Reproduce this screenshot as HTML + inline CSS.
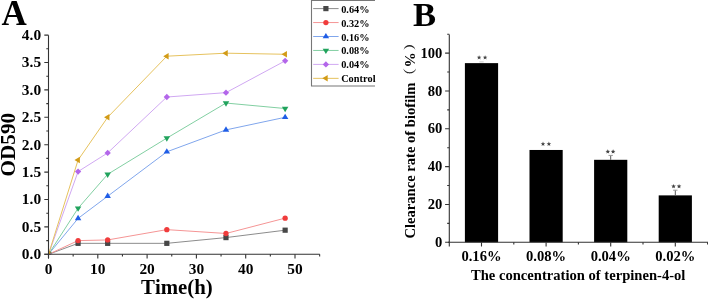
<!DOCTYPE html>
<html><head><meta charset="utf-8"><style>
html,body{margin:0;padding:0;background:#fff;}
svg{display:block;filter:blur(0.3px);}
text{font-kerning:none;font-variant-ligatures:none;}
</style></head><body>
<svg width="708" height="299" viewBox="0 0 708 299">
<rect width="708" height="299" fill="#fff"/>
<text x="1.6" y="24.6" font-family="'Liberation Serif', serif" font-weight="bold" font-size="35">A</text>
<defs><clipPath id="pa"><rect x="48.5" y="30" width="272" height="224.3"/></clipPath></defs>
<g clip-path="url(#pa)">
<polyline points="48.50,254.30 78.08,243.34 107.66,243.34 166.82,243.34 225.98,237.59 285.14,230.19" fill="none" stroke="#8c8c8c" stroke-width="1"/>
<polyline points="48.50,254.30 78.08,240.60 107.66,239.94 166.82,229.64 225.98,233.48 285.14,218.13" fill="none" stroke="#f59595" stroke-width="1"/>
<polyline points="48.50,254.30 78.08,218.41 107.66,196.21 166.82,151.82 225.98,129.90 285.14,117.30" fill="none" stroke="#80a6ec" stroke-width="1"/>
<polyline points="48.50,254.30 78.08,208.27 107.66,174.29 166.82,138.12 225.98,103.05 285.14,108.53" fill="none" stroke="#82cfa2" stroke-width="1"/>
<polyline points="48.50,254.30 78.08,171.55 107.66,152.92 166.82,97.02 225.98,92.64 285.14,60.86" fill="none" stroke="#d0a8f2" stroke-width="1"/>
<polyline points="48.50,254.30 78.08,160.04 107.66,117.30 166.82,56.20 225.98,53.18 285.14,54.28" fill="none" stroke="#e6c25e" stroke-width="1"/>
<rect x="45.90" y="251.70" width="5.20" height="5.20" fill="#474747"/>
<rect x="75.48" y="240.74" width="5.20" height="5.20" fill="#474747"/>
<rect x="105.06" y="240.74" width="5.20" height="5.20" fill="#474747"/>
<rect x="164.22" y="240.74" width="5.20" height="5.20" fill="#474747"/>
<rect x="223.38" y="234.99" width="5.20" height="5.20" fill="#474747"/>
<rect x="282.54" y="227.59" width="5.20" height="5.20" fill="#474747"/>
<circle cx="48.50" cy="254.30" r="2.65" fill="#f03c3c"/>
<circle cx="78.08" cy="240.60" r="2.65" fill="#f03c3c"/>
<circle cx="107.66" cy="239.94" r="2.65" fill="#f03c3c"/>
<circle cx="166.82" cy="229.64" r="2.65" fill="#f03c3c"/>
<circle cx="225.98" cy="233.48" r="2.65" fill="#f03c3c"/>
<circle cx="285.14" cy="218.13" r="2.65" fill="#f03c3c"/>
<path d="M48.50,250.70 L51.75,256.10 L45.25,256.10Z" fill="#1f5de6"/>
<path d="M78.08,214.81 L81.33,220.21 L74.83,220.21Z" fill="#1f5de6"/>
<path d="M107.66,192.61 L110.91,198.01 L104.41,198.01Z" fill="#1f5de6"/>
<path d="M166.82,148.22 L170.07,153.62 L163.57,153.62Z" fill="#1f5de6"/>
<path d="M225.98,126.30 L229.23,131.70 L222.73,131.70Z" fill="#1f5de6"/>
<path d="M285.14,113.70 L288.39,119.10 L281.89,119.10Z" fill="#1f5de6"/>
<path d="M48.50,257.90 L51.75,252.50 L45.25,252.50Z" fill="#21a35d"/>
<path d="M78.08,211.87 L81.33,206.47 L74.83,206.47Z" fill="#21a35d"/>
<path d="M107.66,177.89 L110.91,172.49 L104.41,172.49Z" fill="#21a35d"/>
<path d="M166.82,141.72 L170.07,136.32 L163.57,136.32Z" fill="#21a35d"/>
<path d="M225.98,106.65 L229.23,101.25 L222.73,101.25Z" fill="#21a35d"/>
<path d="M285.14,112.13 L288.39,106.73 L281.89,106.73Z" fill="#21a35d"/>
<path d="M48.50,251.15 L51.65,254.30 L48.50,257.45 L45.35,254.30Z" fill="#b366ea"/>
<path d="M78.08,168.40 L81.23,171.55 L78.08,174.70 L74.93,171.55Z" fill="#b366ea"/>
<path d="M107.66,149.77 L110.81,152.92 L107.66,156.07 L104.51,152.92Z" fill="#b366ea"/>
<path d="M166.82,93.87 L169.97,97.02 L166.82,100.17 L163.67,97.02Z" fill="#b366ea"/>
<path d="M225.98,89.49 L229.13,92.64 L225.98,95.79 L222.83,92.64Z" fill="#b366ea"/>
<path d="M285.14,57.71 L288.29,60.86 L285.14,64.01 L281.99,60.86Z" fill="#b366ea"/>
<path d="M44.90,254.30 L50.30,251.05 L50.30,257.55Z" fill="#d29b17"/>
<path d="M74.48,160.04 L79.88,156.79 L79.88,163.29Z" fill="#d29b17"/>
<path d="M104.06,117.30 L109.46,114.05 L109.46,120.55Z" fill="#d29b17"/>
<path d="M163.22,56.20 L168.62,52.95 L168.62,59.45Z" fill="#d29b17"/>
<path d="M222.38,53.18 L227.78,49.93 L227.78,56.43Z" fill="#d29b17"/>
<path d="M281.54,54.28 L286.94,51.03 L286.94,57.53Z" fill="#d29b17"/>
</g>
<path d="M48.5,35.2 V258.5 M44.3,254.3 H319.8" stroke="#333" stroke-width="1.1" fill="none"/>
<path d="M44.3,254.30 H48.5 M46.3,240.60 H48.5 M44.3,226.90 H48.5 M46.3,213.20 H48.5 M44.3,199.50 H48.5 M46.3,185.80 H48.5 M44.3,172.10 H48.5 M46.3,158.40 H48.5 M44.3,144.70 H48.5 M46.3,131.00 H48.5 M44.3,117.30 H48.5 M46.3,103.60 H48.5 M44.3,89.90 H48.5 M46.3,76.20 H48.5 M44.3,62.50 H48.5 M46.3,48.80 H48.5 M44.3,35.10 H48.5 M48.50,254.3 V258.5 M73.15,254.3 V256.4 M97.80,254.3 V258.5 M122.45,254.3 V256.4 M147.10,254.3 V258.5 M171.75,254.3 V256.4 M196.40,254.3 V258.5 M221.05,254.3 V256.4 M245.70,254.3 V258.5 M270.35,254.3 V256.4 M295.00,254.3 V258.5 M319.65,254.3 V256.4" stroke="#333" stroke-width="1.1" fill="none"/>
<text x="41.1" y="259.25" font-family="'Liberation Serif', serif" font-weight="bold" font-size="15.4" text-anchor="end">0.0</text>
<text x="41.1" y="231.85" font-family="'Liberation Serif', serif" font-weight="bold" font-size="15.4" text-anchor="end">0.5</text>
<text x="41.1" y="204.45" font-family="'Liberation Serif', serif" font-weight="bold" font-size="15.4" text-anchor="end">1.0</text>
<text x="41.1" y="177.05" font-family="'Liberation Serif', serif" font-weight="bold" font-size="15.4" text-anchor="end">1.5</text>
<text x="41.1" y="149.65" font-family="'Liberation Serif', serif" font-weight="bold" font-size="15.4" text-anchor="end">2.0</text>
<text x="41.1" y="122.25" font-family="'Liberation Serif', serif" font-weight="bold" font-size="15.4" text-anchor="end">2.5</text>
<text x="41.1" y="94.85" font-family="'Liberation Serif', serif" font-weight="bold" font-size="15.4" text-anchor="end">3.0</text>
<text x="41.1" y="67.45" font-family="'Liberation Serif', serif" font-weight="bold" font-size="15.4" text-anchor="end">3.5</text>
<text x="41.1" y="40.05" font-family="'Liberation Serif', serif" font-weight="bold" font-size="15.4" text-anchor="end">4.0</text>
<text x="48.50" y="273.6" font-family="'Liberation Serif', serif" font-weight="bold" font-size="15.4" text-anchor="middle">0</text>
<text x="97.80" y="273.6" font-family="'Liberation Serif', serif" font-weight="bold" font-size="15.4" text-anchor="middle">10</text>
<text x="147.10" y="273.6" font-family="'Liberation Serif', serif" font-weight="bold" font-size="15.4" text-anchor="middle">20</text>
<text x="196.40" y="273.6" font-family="'Liberation Serif', serif" font-weight="bold" font-size="15.4" text-anchor="middle">30</text>
<text x="245.70" y="273.6" font-family="'Liberation Serif', serif" font-weight="bold" font-size="15.4" text-anchor="middle">40</text>
<text x="295.00" y="273.6" font-family="'Liberation Serif', serif" font-weight="bold" font-size="15.4" text-anchor="middle">50</text>
<text x="176.9" y="293.8" font-family="'Liberation Serif', serif" font-weight="bold" font-size="20.8" text-anchor="middle">Time(h)</text>
<text transform="translate(14.9,144.7) rotate(-90)" x="0" y="0" font-family="'Liberation Serif', serif" font-weight="bold" font-size="21.2" text-anchor="middle">OD590</text>
<path d="M311.5,0.5 H375 M311.5,0 V86 H375" stroke="#777" stroke-width="1.1" fill="none"/>
<line x1="313.2" y1="8.60" x2="338.6" y2="8.60" stroke="#8c8c8c" stroke-width="1"/>
<rect x="323.30" y="6.00" width="5.20" height="5.20" fill="#474747"/>
<text x="341.2" y="12.60" font-family="'Liberation Serif', serif" font-weight="bold" font-size="10.3">0.64%</text>
<line x1="313.2" y1="22.55" x2="338.6" y2="22.55" stroke="#f59595" stroke-width="1"/>
<circle cx="325.90" cy="22.55" r="2.65" fill="#f03c3c"/>
<text x="341.2" y="26.55" font-family="'Liberation Serif', serif" font-weight="bold" font-size="10.3">0.32%</text>
<line x1="313.2" y1="36.50" x2="338.6" y2="36.50" stroke="#80a6ec" stroke-width="1"/>
<path d="M325.90,32.90 L329.15,38.30 L322.65,38.30Z" fill="#1f5de6"/>
<text x="341.2" y="40.50" font-family="'Liberation Serif', serif" font-weight="bold" font-size="10.3">0.16%</text>
<line x1="313.2" y1="50.45" x2="338.6" y2="50.45" stroke="#82cfa2" stroke-width="1"/>
<path d="M325.90,54.05 L329.15,48.65 L322.65,48.65Z" fill="#21a35d"/>
<text x="341.2" y="54.45" font-family="'Liberation Serif', serif" font-weight="bold" font-size="10.3">0.08%</text>
<line x1="313.2" y1="64.40" x2="338.6" y2="64.40" stroke="#d0a8f2" stroke-width="1"/>
<path d="M325.90,61.25 L329.05,64.40 L325.90,67.55 L322.75,64.40Z" fill="#b366ea"/>
<text x="341.2" y="68.40" font-family="'Liberation Serif', serif" font-weight="bold" font-size="10.3">0.04%</text>
<line x1="313.2" y1="78.35" x2="338.6" y2="78.35" stroke="#e6c25e" stroke-width="1"/>
<path d="M322.30,78.35 L327.70,75.10 L327.70,81.60Z" fill="#d29b17"/>
<text x="341.2" y="82.35" font-family="'Liberation Serif', serif" font-weight="bold" font-size="10.3">Control</text>
<text x="412.9" y="25.9" font-family="'Liberation Serif', serif" font-weight="bold" font-size="34.6">B</text>
<rect x="464.90" y="63.13" width="33.2" height="179.17" fill="#000"/>
<path d="M479.30,61.9 H483.70" stroke="#bbb" stroke-width="0.8"/>
<polygon points="479.10,55.15 479.72,56.70 481.38,56.81 480.10,57.87 480.51,59.49 479.10,58.60 477.69,59.49 478.10,57.87 476.82,56.81 478.48,56.70" fill="#444"/>
<polygon points="485.10,55.15 485.72,56.70 487.38,56.81 486.10,57.87 486.51,59.49 485.10,58.60 483.69,59.49 484.10,57.87 482.82,56.81 484.48,56.70" fill="#444"/>
<text x="481.50" y="261.3" font-family="'Liberation Serif', serif" font-weight="bold" font-size="14.6" text-anchor="middle">0.16%</text>
<rect x="529.50" y="149.97" width="33.2" height="92.33" fill="#000"/>
<polygon points="543.00,141.60 543.62,143.15 545.28,143.26 544.00,144.32 544.41,145.94 543.00,145.05 541.59,145.94 542.00,144.32 540.72,143.26 542.38,143.15" fill="#444"/>
<polygon points="548.90,141.60 549.52,143.15 551.18,143.26 549.90,144.32 550.31,145.94 548.90,145.05 547.49,145.94 547.90,144.32 546.62,143.26 548.28,143.15" fill="#444"/>
<text x="546.10" y="261.3" font-family="'Liberation Serif', serif" font-weight="bold" font-size="14.6" text-anchor="middle">0.08%</text>
<rect x="594.10" y="159.81" width="33.2" height="82.49" fill="#000"/>
<path d="M610.70,159.81 V155.40" stroke="#555" stroke-width="1"/>
<path d="M608.50,155.40 H612.90" stroke="#999" stroke-width="1"/>
<polygon points="607.80,149.25 608.42,150.80 610.08,150.91 608.80,151.97 609.21,153.59 607.80,152.70 606.39,153.59 606.80,151.97 605.52,150.91 607.18,150.80" fill="#444"/>
<polygon points="613.10,149.25 613.72,150.80 615.38,150.91 614.10,151.97 614.51,153.59 613.10,152.70 611.69,153.59 612.10,151.97 610.82,150.91 612.48,150.80" fill="#444"/>
<text x="610.70" y="261.3" font-family="'Liberation Serif', serif" font-weight="bold" font-size="14.6" text-anchor="middle">0.04%</text>
<rect x="658.70" y="195.38" width="33.2" height="46.92" fill="#000"/>
<path d="M675.30,195.38 V190.20" stroke="#555" stroke-width="1"/>
<path d="M673.10,190.20 H677.50" stroke="#999" stroke-width="1"/>
<polygon points="673.55,183.95 674.17,185.50 675.83,185.61 674.55,186.67 674.96,188.29 673.55,187.40 672.14,188.29 672.55,186.67 671.27,185.61 672.93,185.50" fill="#444"/>
<polygon points="679.05,183.95 679.67,185.50 681.33,185.61 680.05,186.67 680.46,188.29 679.05,187.40 677.64,188.29 678.05,186.67 676.77,185.61 678.43,185.50" fill="#444"/>
<text x="675.30" y="261.3" font-family="'Liberation Serif', serif" font-weight="bold" font-size="14.6" text-anchor="middle">0.02%</text>
<path d="M449.3,34.4 V246.4 M448,242.3 H708" stroke="#333" stroke-width="1.1" fill="none"/>
<path d="M445.1,242.30 H449.3 M447.2,223.38 H449.3 M445.1,204.46 H449.3 M447.2,185.54 H449.3 M445.1,166.62 H449.3 M447.2,147.70 H449.3 M445.1,128.78 H449.3 M447.2,109.86 H449.3 M445.1,90.94 H449.3 M447.2,72.02 H449.3 M445.1,53.10 H449.3 M447.2,34.18 H449.3 M481.50,242.3 V246.4 M513.80,242.3 V244.4 M546.10,242.3 V246.4 M578.40,242.3 V244.4 M610.70,242.3 V246.4 M643.00,242.3 V244.4 M675.30,242.3 V246.4 M707.60,242.3 V244.4" stroke="#333" stroke-width="1.1" fill="none"/>
<text x="442.3" y="246.90" font-family="'Liberation Serif', serif" font-weight="bold" font-size="14.6" text-anchor="end">0</text>
<text x="442.3" y="209.06" font-family="'Liberation Serif', serif" font-weight="bold" font-size="14.6" text-anchor="end">20</text>
<text x="442.3" y="171.22" font-family="'Liberation Serif', serif" font-weight="bold" font-size="14.6" text-anchor="end">40</text>
<text x="442.3" y="133.38" font-family="'Liberation Serif', serif" font-weight="bold" font-size="14.6" text-anchor="end">60</text>
<text x="442.3" y="95.54" font-family="'Liberation Serif', serif" font-weight="bold" font-size="14.6" text-anchor="end">80</text>
<text x="442.3" y="57.70" font-family="'Liberation Serif', serif" font-weight="bold" font-size="14.6" text-anchor="end">100</text>
<text x="578.2" y="279.8" font-family="'Liberation Serif', serif" font-weight="bold" font-size="14.6" text-anchor="middle">The concentration of terpinen-4-ol</text>
<text transform="translate(415,238.6) rotate(-90)" x="0" y="0" font-family="'Liberation Serif', serif" font-weight="bold" font-size="14.6">Clearance rate of biofilm</text>
<text transform="translate(414.6,59.8) rotate(-90)" x="0" y="0" font-family="'Liberation Serif', serif" font-weight="bold" font-size="15.2" text-anchor="middle">%</text>
<path d="M403.4,68.6 C404.5,75.2 414.9,75.2 416.0,68.6 C414.2,73.4 405.2,73.4 403.4,68.6Z" fill="#222"/>
<path d="M403.6,50.0 C404.7,43.4 414.3,43.4 415.4,50.0 C413.6,45.2 405.4,45.2 403.6,50.0Z" fill="#222"/>
</svg>
</body></html>
